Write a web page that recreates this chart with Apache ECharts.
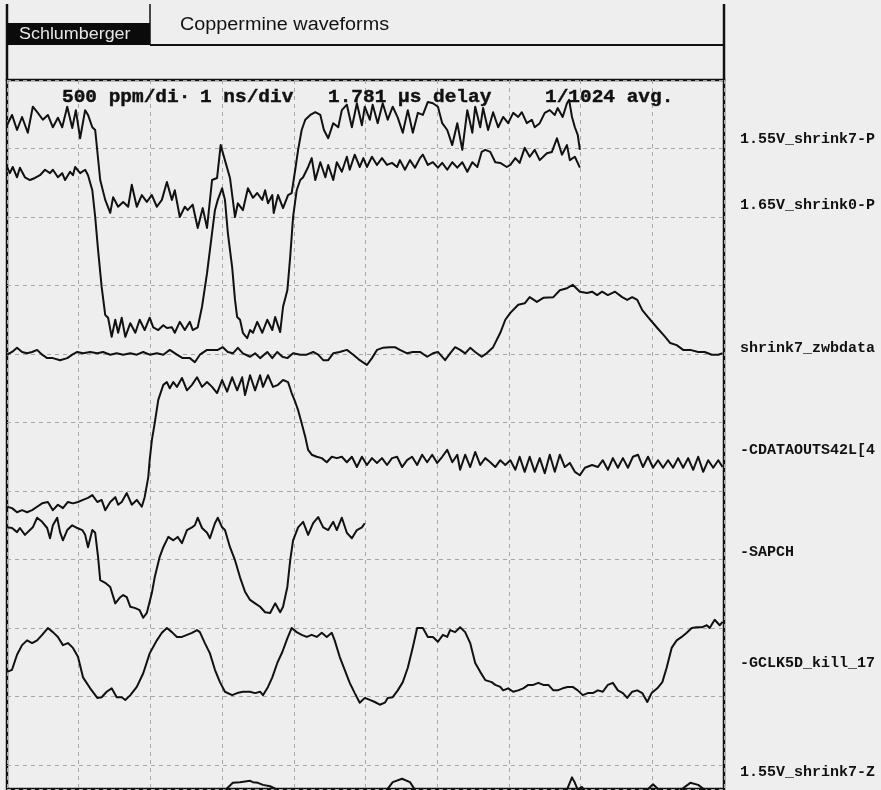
<!DOCTYPE html>
<html>
<head>
<meta charset="utf-8">
<title>Coppermine waveforms</title>
<script src="https://cdn.jsdelivr.net/npm/echarts/dist/echarts.min.js"></script>
<style>
  html, body { margin: 0; padding: 0; background: #eeeeee; }
  #chart { width: 881px; height: 790px; }
</style>
</head>
<body>
<div id="chart"></div>
<script>
// Time in ns (1 ns/div), vertical position in screen divisions counted from the top.
const shrink7P = [[0.00,0.66],[0.07,0.51],[0.14,0.73],[0.21,0.54],[0.29,0.77],[0.36,0.39],[0.43,0.48],[0.50,0.58],[0.57,0.51],[0.64,0.69],[0.71,0.55],[0.77,0.69],[0.84,0.39],[0.91,0.70],[0.96,0.44],[1.02,0.85],[1.09,0.44],[1.13,0.51],[1.19,0.69],[1.23,0.73],[1.30,1.46],[1.37,1.75],[1.44,1.94],[1.48,1.71],[1.55,1.85],[1.62,1.78],[1.69,1.85],[1.74,1.53],[1.81,1.85],[1.88,1.68],[1.95,1.78],[2.02,1.68],[2.09,1.85],[2.16,1.75],[2.23,1.49],[2.30,1.75],[2.34,1.61],[2.41,2.00],[2.48,1.85],[2.52,1.90],[2.59,1.82],[2.66,2.16],[2.73,1.87],[2.79,2.16],[2.86,1.46],[2.93,1.43],[2.98,0.95],[3.05,1.21],[3.11,1.43],[3.18,2.00],[3.22,1.80],[3.29,1.90],[3.36,1.58],[3.43,1.72],[3.49,1.65],[3.56,1.75],[3.60,1.61],[3.64,1.80],[3.70,1.68],[3.72,1.94],[3.78,1.68],[3.85,1.87],[3.92,1.68],[3.97,1.65],[4.02,1.31],[4.06,1.02],[4.11,0.73],[4.16,0.58],[4.23,0.51],[4.30,0.47],[4.37,0.51],[4.42,0.73],[4.48,0.85],[4.55,0.63],[4.62,0.69],[4.67,0.44],[4.74,0.36],[4.81,0.69],[4.88,0.34],[4.95,0.66],[4.99,0.39],[5.06,0.58],[5.10,0.36],[5.17,0.63],[5.24,0.34],[5.31,0.58],[5.38,0.39],[5.45,0.55],[5.52,0.77],[5.59,0.44],[5.66,0.77],[5.73,0.48],[5.80,0.51],[5.87,0.32],[5.94,0.34],[6.01,0.39],[6.07,0.63],[6.14,0.73],[6.21,0.95],[6.28,0.63],[6.35,1.02],[6.42,0.44],[6.49,0.77],[6.53,0.39],[6.60,0.69],[6.64,0.41],[6.71,0.73],[6.78,0.47],[6.85,0.69],[6.92,0.54],[6.99,0.63],[7.06,0.48],[7.13,0.54],[7.18,0.47],[7.25,0.63],[7.32,0.58],[7.36,0.69],[7.43,0.63],[7.50,0.48],[7.57,0.44],[7.64,0.51],[7.68,0.41],[7.75,0.54],[7.81,0.34],[7.84,0.29],[7.88,0.54],[7.92,0.69],[7.96,0.80],[7.99,1.02]];

const shrink0P = [[0.00,1.27],[0.04,1.36],[0.08,1.27],[0.14,1.42],[0.18,1.28],[0.25,1.42],[0.32,1.46],[0.39,1.43],[0.46,1.39],[0.53,1.31],[0.60,1.36],[0.64,1.31],[0.71,1.42],[0.77,1.36],[0.81,1.46],[0.88,1.34],[0.92,1.39],[0.95,1.27],[1.02,1.36],[1.09,1.31],[1.13,1.39],[1.19,1.61],[1.23,2.00],[1.27,2.48],[1.32,3.02],[1.37,3.43],[1.41,3.47],[1.46,3.75],[1.51,3.50],[1.55,3.69],[1.60,3.47],[1.65,3.75],[1.72,3.55],[1.79,3.69],[1.85,3.50],[1.92,3.65],[1.99,3.47],[2.04,3.61],[2.11,3.65],[2.18,3.58],[2.23,3.62],[2.30,3.61],[2.34,3.69],[2.41,3.53],[2.48,3.65],[2.55,3.53],[2.59,3.65],[2.66,3.61],[2.72,3.31],[2.79,2.82],[2.86,2.23],[2.90,1.90],[2.94,1.75],[3.00,1.58],[3.04,1.75],[3.08,2.23],[3.14,2.73],[3.18,3.21],[3.21,3.46],[3.25,3.50],[3.29,3.69],[3.35,3.77],[3.39,3.65],[3.43,3.69],[3.49,3.53],[3.56,3.69],[3.63,3.50],[3.70,3.65],[3.74,3.46],[3.81,3.68],[3.85,3.31],[3.91,3.07],[3.95,2.58],[3.99,2.00],[4.04,1.61],[4.09,1.46],[4.13,1.42],[4.20,1.27],[4.25,1.14],[4.30,1.46],[4.37,1.20],[4.44,1.42],[4.48,1.24],[4.55,1.46],[4.60,1.20],[4.67,1.34],[4.74,1.12],[4.78,1.31],[4.85,1.09],[4.92,1.27],[4.97,1.14],[5.02,1.27],[5.09,1.12],[5.16,1.24],[5.23,1.14],[5.30,1.24],[5.37,1.21],[5.44,1.27],[5.48,1.17],[5.55,1.31],[5.62,1.17],[5.69,1.28],[5.76,1.14],[5.80,1.09],[5.87,1.24],[5.94,1.20],[6.01,1.28],[6.07,1.21],[6.14,1.31],[6.21,1.20],[6.28,1.28],[6.35,1.20],[6.42,1.34],[6.49,1.20],[6.56,1.27],[6.62,1.05],[6.67,1.02],[6.74,1.05],[6.81,1.20],[6.88,1.21],[6.97,1.27],[7.02,1.24],[7.09,1.14],[7.15,1.21],[7.22,0.99],[7.29,1.12],[7.36,1.02],[7.43,1.17],[7.53,1.07],[7.60,1.05],[7.67,0.85],[7.74,1.09],[7.81,0.95],[7.85,1.17],[7.92,1.12],[7.99,1.28]];

const zwbdata = [[0.00,4.01],[0.07,3.97],[0.14,3.91],[0.21,3.97],[0.28,3.99],[0.35,3.97],[0.42,3.94],[0.49,4.01],[0.56,4.06],[0.64,4.06],[0.74,4.09],[0.84,4.06],[0.91,4.01],[0.98,3.97],[1.06,3.99],[1.16,3.97],[1.26,3.99],[1.34,3.97],[1.44,4.01],[1.53,3.99],[1.62,4.01],[1.72,3.99],[1.81,4.01],[1.90,3.97],[1.99,4.01],[2.09,3.99],[2.18,4.01],[2.27,3.94],[2.37,4.01],[2.45,4.06],[2.55,4.06],[2.62,4.12],[2.69,4.01],[2.79,3.94],[2.87,3.94],[2.94,3.94],[3.01,3.90],[3.08,3.97],[3.15,3.99],[3.22,3.91],[3.29,3.99],[3.39,4.04],[3.46,3.99],[3.53,4.06],[3.63,3.97],[3.70,4.06],[3.77,3.97],[3.84,4.04],[3.91,4.06],[3.99,3.99],[4.09,4.01],[4.18,4.01],[4.27,3.97],[4.34,4.01],[4.41,4.09],[4.48,4.09],[4.55,3.99],[4.64,3.97],[4.74,3.94],[4.83,4.01],[4.92,4.09],[5.02,4.16],[5.09,4.06],[5.16,3.94],[5.24,3.91],[5.34,3.90],[5.41,3.90],[5.48,3.94],[5.58,3.99],[5.66,3.97],[5.76,3.97],[5.86,4.04],[5.94,3.99],[6.01,3.97],[6.11,4.09],[6.18,3.99],[6.25,3.90],[6.32,3.94],[6.39,3.99],[6.46,3.91],[6.53,3.97],[6.62,4.04],[6.69,3.99],[6.78,3.90],[6.88,3.69],[6.95,3.50],[7.02,3.40],[7.13,3.28],[7.22,3.26],[7.29,3.17],[7.39,3.24],[7.48,3.18],[7.62,3.17],[7.71,3.07],[7.81,3.04],[7.89,2.99],[7.99,3.09],[8.09,3.11],[8.16,3.09],[8.23,3.14],[8.30,3.09],[8.38,3.14],[8.48,3.09],[8.58,3.17],[8.65,3.21],[8.72,3.17],[8.79,3.21],[8.86,3.36],[8.94,3.46],[9.07,3.62],[9.18,3.75],[9.25,3.84],[9.34,3.87],[9.43,3.94],[9.53,3.94],[9.64,3.97],[9.73,3.97],[9.83,4.01],[9.92,4.01],[9.98,3.99]];

const cdataOuts = [[0.00,6.23],[0.07,6.25],[0.14,6.31],[0.21,6.28],[0.28,6.31],[0.35,6.28],[0.42,6.23],[0.49,6.18],[0.57,6.16],[0.64,6.28],[0.71,6.20],[0.78,6.25],[0.85,6.16],[0.92,6.18],[0.99,6.16],[1.06,6.13],[1.13,6.10],[1.19,6.06],[1.26,6.16],[1.32,6.13],[1.37,6.28],[1.44,6.16],[1.51,6.09],[1.55,6.20],[1.60,6.16],[1.67,6.03],[1.74,6.20],[1.81,6.13],[1.88,6.23],[1.92,6.09],[1.97,5.80],[1.99,5.55],[2.02,5.26],[2.06,5.01],[2.11,4.67],[2.18,4.45],[2.23,4.41],[2.27,4.50],[2.32,4.41],[2.37,4.48],[2.44,4.35],[2.51,4.53],[2.58,4.45],[2.65,4.34],[2.72,4.48],[2.79,4.41],[2.86,4.48],[2.93,4.57],[3.00,4.38],[3.07,4.55],[3.14,4.34],[3.21,4.53],[3.28,4.34],[3.32,4.60],[3.39,4.31],[3.46,4.53],[3.53,4.31],[3.57,4.48],[3.64,4.31],[3.71,4.48],[3.78,4.45],[3.85,4.38],[3.92,4.41],[3.97,4.57],[4.02,4.70],[4.06,4.82],[4.11,5.01],[4.16,5.21],[4.20,5.40],[4.25,5.47],[4.32,5.50],[4.39,5.52],[4.46,5.58],[4.53,5.50],[4.60,5.52],[4.67,5.50],[4.74,5.58],[4.81,5.50],[4.88,5.65],[4.95,5.50],[5.02,5.62],[5.09,5.52],[5.16,5.59],[5.23,5.52],[5.30,5.62],[5.37,5.52],[5.44,5.50],[5.51,5.65],[5.58,5.55],[5.65,5.50],[5.72,5.62],[5.79,5.47],[5.86,5.58],[5.93,5.47],[6.00,5.59],[6.07,5.50],[6.14,5.40],[6.21,5.58],[6.28,5.47],[6.32,5.69],[6.39,5.47],[6.46,5.65],[6.53,5.43],[6.60,5.62],[6.67,5.52],[6.74,5.58],[6.81,5.65],[6.88,5.55],[6.95,5.62],[7.02,5.55],[7.09,5.69],[7.15,5.50],[7.22,5.72],[7.29,5.50],[7.36,5.72],[7.43,5.52],[7.50,5.74],[7.57,5.47],[7.64,5.72],[7.71,5.47],[7.78,5.65],[7.85,5.59],[7.92,5.72],[7.99,5.77],[8.06,5.66],[8.16,5.62],[8.24,5.65],[8.31,5.55],[8.38,5.69],[8.45,5.52],[8.52,5.66],[8.59,5.52],[8.66,5.66],[8.73,5.50],[8.80,5.47],[8.87,5.65],[8.94,5.50],[9.01,5.66],[9.08,5.55],[9.15,5.66],[9.22,5.55],[9.29,5.66],[9.36,5.52],[9.43,5.66],[9.50,5.52],[9.57,5.69],[9.64,5.50],[9.71,5.72],[9.78,5.55],[9.85,5.66],[9.92,5.55],[9.98,5.65]];

const sapch = [[0.00,6.53],[0.07,6.54],[0.14,6.60],[0.18,6.54],[0.25,6.64],[0.32,6.57],[0.36,6.53],[0.42,6.39],[0.49,6.45],[0.56,6.54],[0.60,6.69],[0.64,6.50],[0.70,6.39],[0.74,6.60],[0.78,6.72],[0.84,6.57],[0.91,6.50],[0.98,6.54],[1.05,6.57],[1.09,6.64],[1.13,6.82],[1.19,6.57],[1.23,6.61],[1.27,6.96],[1.30,7.30],[1.37,7.34],[1.44,7.40],[1.51,7.64],[1.58,7.55],[1.62,7.52],[1.67,7.55],[1.72,7.69],[1.79,7.71],[1.85,7.74],[1.90,7.85],[1.95,7.78],[2.02,7.49],[2.06,7.26],[2.13,6.96],[2.18,6.82],[2.25,6.67],[2.32,6.72],[2.38,6.67],[2.44,6.76],[2.51,6.57],[2.58,6.53],[2.62,6.50],[2.66,6.39],[2.72,6.54],[2.79,6.61],[2.83,6.69],[2.90,6.47],[2.94,6.39],[3.00,6.53],[3.04,6.57],[3.11,6.82],[3.18,7.01],[3.25,7.26],[3.32,7.47],[3.39,7.59],[3.46,7.64],[3.53,7.69],[3.60,7.77],[3.67,7.78],[3.74,7.64],[3.81,7.77],[3.85,7.69],[3.91,7.40],[3.95,7.01],[3.99,6.72],[4.06,6.53],[4.13,6.45],[4.20,6.64],[4.27,6.47],[4.34,6.38],[4.41,6.53],[4.48,6.57],[4.55,6.45],[4.60,6.57],[4.67,6.39],[4.74,6.61],[4.81,6.69],[4.88,6.57],[4.95,6.53],[4.99,6.47]];

const gclkKill = [[0.00,8.64],[0.07,8.61],[0.14,8.39],[0.21,8.25],[0.28,8.18],[0.35,8.22],[0.42,8.18],[0.49,8.10],[0.57,8.00],[0.64,8.06],[0.71,8.13],[0.78,8.25],[0.85,8.22],[0.92,8.29],[0.99,8.42],[1.06,8.72],[1.16,8.88],[1.26,9.02],[1.32,9.01],[1.39,8.93],[1.46,8.88],[1.53,9.01],[1.60,9.01],[1.65,9.05],[1.72,8.98],[1.81,8.86],[1.90,8.66],[1.99,8.37],[2.09,8.18],[2.16,8.07],[2.23,8.00],[2.30,8.06],[2.37,8.13],[2.44,8.13],[2.51,8.10],[2.58,8.07],[2.65,8.03],[2.69,8.06],[2.76,8.22],[2.83,8.37],[2.90,8.61],[2.97,8.79],[3.04,8.93],[3.14,8.98],[3.21,8.95],[3.29,8.93],[3.39,8.93],[3.46,8.95],[3.53,8.93],[3.57,8.98],[3.64,8.86],[3.70,8.72],[3.77,8.51],[3.84,8.35],[3.91,8.15],[3.97,8.00],[4.04,8.06],[4.11,8.10],[4.18,8.13],[4.25,8.10],[4.32,8.13],[4.39,8.07],[4.46,8.13],[4.53,8.07],[4.57,8.18],[4.64,8.42],[4.71,8.61],[4.78,8.80],[4.85,8.95],[4.92,9.09],[4.99,9.02],[5.06,9.05],[5.13,9.08],[5.20,9.12],[5.27,9.09],[5.31,9.02],[5.38,9.01],[5.45,8.91],[5.52,8.79],[5.59,8.58],[5.66,8.28],[5.72,8.00],[5.80,8.00],[5.87,8.13],[5.94,8.13],[6.01,8.20],[6.08,8.10],[6.14,8.13],[6.18,8.03],[6.25,8.06],[6.32,7.99],[6.39,8.06],[6.46,8.22],[6.53,8.51],[6.60,8.64],[6.67,8.76],[6.76,8.79],[6.81,8.83],[6.88,8.86],[6.92,8.91],[6.99,8.88],[7.06,8.93],[7.13,8.91],[7.20,8.88],[7.27,8.83],[7.34,8.83],[7.41,8.80],[7.48,8.83],[7.55,8.83],[7.62,8.91],[7.68,8.91],[7.75,8.88],[7.82,8.86],[7.89,8.86],[7.96,8.91],[8.03,8.98],[8.10,8.95],[8.17,8.95],[8.24,8.91],[8.31,8.93],[8.38,8.83],[8.45,8.80],[8.52,8.91],[8.59,8.95],[8.65,9.02],[8.72,8.93],[8.79,8.91],[8.86,8.95],[8.93,9.08],[8.99,8.95],[9.07,8.88],[9.14,8.79],[9.20,8.58],[9.27,8.29],[9.34,8.18],[9.41,8.13],[9.48,8.07],[9.55,8.00],[9.62,7.99],[9.69,7.99],[9.76,7.96],[9.80,8.00],[9.87,7.88],[9.94,7.96],[9.98,7.91]];

const shrink7Z = [[0.00,10.60],[1.00,10.62],[2.00,10.60],[2.97,10.51],[3.07,10.34],[3.15,10.26],[3.25,10.25],[3.39,10.23],[3.43,10.25],[3.50,10.26],[3.57,10.29],[3.67,10.31],[3.77,10.36],[3.84,10.51],[4.50,10.60],[5.24,10.51],[5.30,10.36],[5.38,10.25],[5.51,10.20],[5.62,10.25],[5.69,10.36],[5.76,10.51],[6.70,10.60],[7.71,10.51],[7.81,10.36],[7.88,10.18],[7.92,10.26],[7.96,10.36],[8.02,10.32],[8.09,10.44],[8.83,10.51],[8.93,10.36],[9.01,10.28],[9.09,10.36],[9.16,10.51],[9.32,10.51],[9.40,10.36],[9.53,10.26],[9.64,10.29],[9.73,10.36],[9.80,10.51],[10.00,10.58]];

const traces = [shrink7P, shrink0P, zwbdata, cdataOuts, sapch, gclkKill, shrink7Z];
const channelNames = ['1.55V_shrink7-P', '1.65V_shrink0-P', 'shrink7_zwbdata', '-CDATAOUTS42L[4', '-SAPCH', '-GCLK5D_kill_17', '1.55V_shrink7-Z'];
const settingsText = ['500 ppm/di·', '1 ns/div', '1.781 µs delay', '1/1024 avg.'];
const vendorName = 'Schlumberger';
const screenTitle = 'Coppermine waveforms';

// Layout of the side column and header (pixels)
const labelY = [139, 205, 348, 450, 552, 663, 772];
const settingsX = [62, 200, 328, 545];

const chart = echarts.init(document.getElementById('chart'), null, { renderer: 'canvas' });

const ink = '#111111';
const mono = '"Liberation Mono", "DejaVu Sans Mono", monospace';
const sans = '"Liberation Sans", Arial, sans-serif';

const graphics = [
  { type: 'line', shape: { x1: 7, y1: 4, x2: 7, y2: 81 }, style: { stroke: ink, lineWidth: 2.5 } },
  { type: 'line', shape: { x1: 724, y1: 4, x2: 724, y2: 81 }, style: { stroke: ink, lineWidth: 2.5 } },
  { type: 'line', shape: { x1: 150, y1: 4, x2: 150, y2: 45 }, style: { stroke: ink, lineWidth: 1.5 } },
  { type: 'line', shape: { x1: 150, y1: 45, x2: 724, y2: 45 }, style: { stroke: ink, lineWidth: 2 } },
  { type: 'rect', shape: { x: 7, y: 23, width: 143, height: 22 }, style: { fill: '#0b0b0b' } },
  { type: 'text', x: 19, y: 35, scaleX: 1.12,
    style: { text: vendorName, font: '16px ' + sans, fill: '#e6e6e6', verticalAlign: 'middle', align: 'left' } },
  { type: 'text', x: 180, y: 25, scaleX: 1.1,
    style: { text: screenTitle, font: '18px ' + sans, fill: ink, verticalAlign: 'middle', align: 'left' } }
];
settingsText.forEach((t, i) => {
  graphics.push({ type: 'text', x: settingsX[i], y: 97, scaleX: 1.08, z: 1,
    style: { text: t, font: 'bold 18px ' + mono, fill: ink, stroke: ink, lineWidth: 0.4,
             verticalAlign: 'middle', align: 'left' } });
});
channelNames.forEach((t, i) => {
  graphics.push({ type: 'text', x: 740, y: labelY[i],
    style: { text: t, font: 'bold 15px ' + mono, fill: ink, verticalAlign: 'middle', align: 'left' } });
});

const option = {
  backgroundColor: '#eeeeee',
  animation: false,
  grid: {
    left: 7, right: 157, top: 80, bottom: 1,
    show: true, borderColor: ink, borderWidth: 2.5, backgroundColor: 'transparent'
  },
  xAxis: {
    type: 'value', min: 0, max: 10, interval: 1,
    axisLine: { show: false }, axisTick: { show: false }, axisLabel: { show: false },
    splitLine: { show: true, lineStyle: { color: '#a8a8a8', width: 1, type: [4, 4] } }
  },
  yAxis: {
    type: 'value', inverse: true, min: 0, max: 10.35, interval: 1,
    axisLine: { show: false }, axisTick: { show: false }, axisLabel: { show: false },
    splitLine: { show: true, lineStyle: { color: '#a8a8a8', width: 1, type: [4, 4] } }
  },
  graphic: graphics,
  series: traces.map((d, i) => ({
    name: channelNames[i],
    type: 'line',
    data: d,
    showSymbol: false,
    symbol: 'none',
    clip: true,
    silent: true,
    z: 3,
    lineStyle: { color: ink, width: 2, join: 'round' }
  }))
};

chart.setOption(option);
</script>
</body>
</html>
